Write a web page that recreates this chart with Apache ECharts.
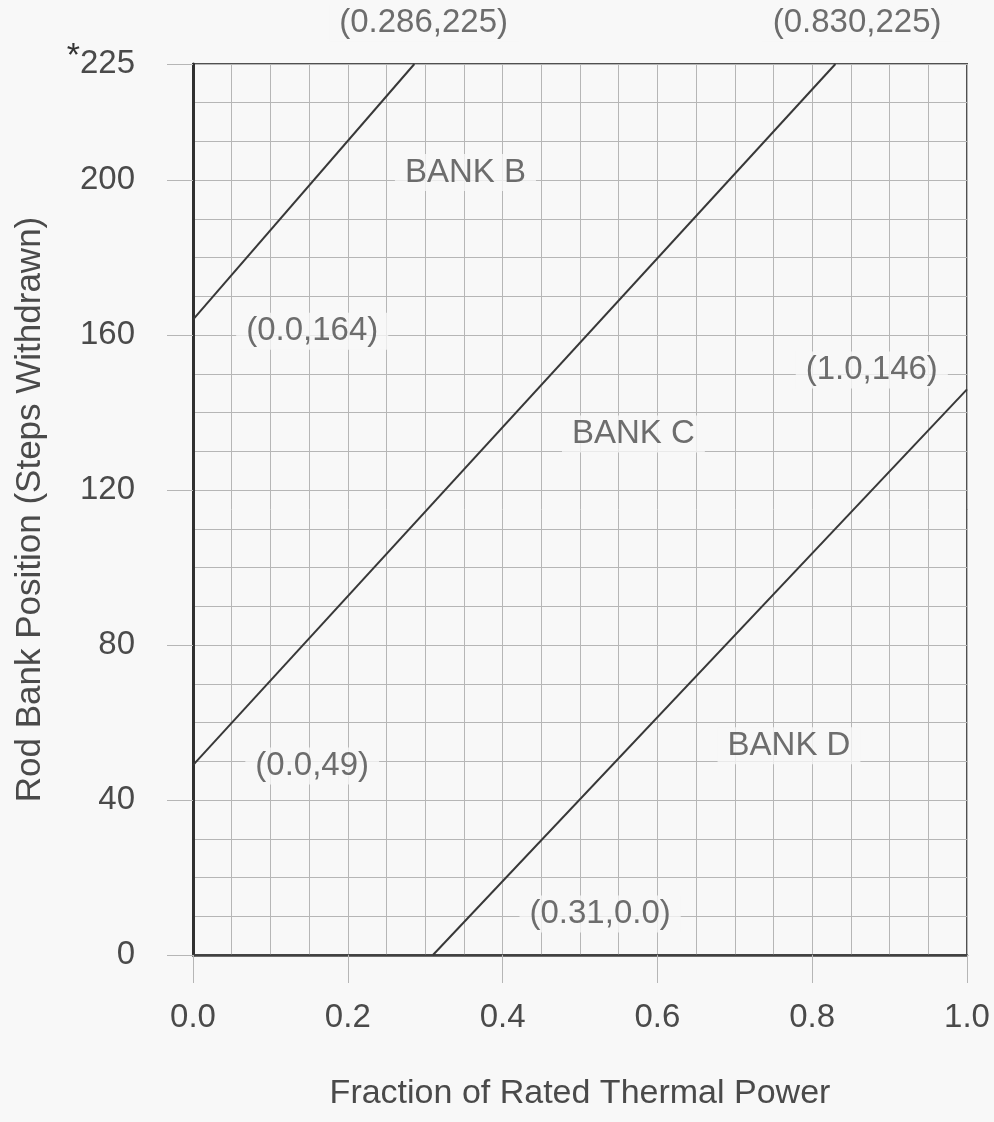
<!DOCTYPE html>
<html>
<head>
<meta charset="utf-8">
<script src="https://cdn.jsdelivr.net/npm/echarts@6/dist/echarts.min.js"></script>
<style>
  html, body { margin: 0; padding: 0; background: #f8f8f8; }
  #chart { width: 994px; height: 1122px; }
</style>
</head>
<body>
<div id="chart"></div>
<script>
// ---- data ----
// The top border of the figure is the "fully withdrawn" position (labelled *225),
// which on the drawn linear scale sits at 230 steps.
const yTop = 230;
const bankB = [[0.0, 164], [0.286, 230]];
const bankC = [[0.0, 49], [0.830, 230]];
const bankD = [[0.31, 0], [1.0, 146]];
const seriesNames = ['BANK B', 'BANK C', 'BANK D'];

const xTickValues = [0.0, 0.2, 0.4, 0.6, 0.8, 1.0];
const xTickLabels = ['0.0', '0.2', '0.4', '0.6', '0.8', '1.0'];
const yTickValues = [0, 40, 80, 120, 160, 200, 230];
const yTickLabels = ['0', '40', '80', '120', '160', '200', '{s|*}225'];

const annotationTexts = ['(0.286,225)', '(0.830,225)', 'BANK B', '(0.0,164)', '(1.0,146)', 'BANK C', '(0.0,49)', 'BANK D', '(0.31,0.0)'];
// anchor of each annotation, in axis units
const annotationX = [0.298, 0.858, 0.352, 0.154, 0.877, 0.569, 0.154, 0.770, 0.526];
const annotationY = [240.5, 240.5, 202, 161, 151, 134.5, 48.8, 54, 10.6];

// ---- chart ----
const textColor = '#4a4a4a';
const gridColor = '#b6b6b6';
const lineColor = '#383838';
const bgColor = '#f8f8f8';
const fontFamily = '"Liberation Sans", Arial, Helvetica, sans-serif';

const annotations = annotationTexts.map((t, i) => [annotationX[i], annotationY[i], t]);

function lookup(values, labels, v) {
  for (let i = 0; i < values.length; i++) {
    if (Math.abs(values[i] - v) < 1e-6) return labels[i];
  }
  return '';
}

const chart = echarts.init(document.getElementById('chart'), null, { renderer: 'canvas' });
chart.setOption({
  backgroundColor: bgColor,
  animation: false,
  textStyle: { fontFamily: fontFamily },
  grid: {
    left: 193, right: 27, top: 64, bottom: 167,
    show: true, borderColor: '#505050', borderWidth: 2, backgroundColor: 'transparent'
  },
  xAxis: [
    {
      type: 'value', min: 0, max: 1, interval: 0.05, position: 'bottom',
      axisLine: { show: true, lineStyle: { color: '#404040', width: 2.5 } },
      axisTick: { show: false }, axisLabel: { show: false },
      splitLine: { show: true, lineStyle: { color: gridColor, width: 1 } }
    },
    {
      type: 'value', min: 0, max: 1, interval: 0.2, position: 'bottom',
      name: 'Fraction of Rated Thermal Power', nameLocation: 'middle', nameGap: 122,
      nameTextStyle: { fontSize: 34, color: textColor, fontFamily: fontFamily },
      axisLine: { show: false },
      axisTick: { show: true, inside: false, length: 28, lineStyle: { color: gridColor, width: 1 } },
      axisLabel: {
        show: true, margin: 46, fontSize: 33, color: textColor, fontFamily: fontFamily,
        formatter: v => lookup(xTickValues, xTickLabels, v)
      },
      splitLine: { show: false }
    }
  ],
  yAxis: [
    {
      type: 'value', min: 0, max: yTop, interval: 10, position: 'left',
      axisLine: { show: true, lineStyle: { color: '#303030', width: 3 } },
      axisTick: { show: false }, axisLabel: { show: false },
      splitLine: { show: true, lineStyle: { color: gridColor, width: 1 } }
    },
    {
      type: 'value', min: 0, max: yTop, interval: 40, position: 'left',
      name: 'Rod Bank Position (Steps Withdrawn)', nameLocation: 'middle', nameGap: 145,
      nameTextStyle: { fontSize: 35, color: textColor, fontFamily: fontFamily },
      axisLine: { show: false },
      axisTick: { show: true, inside: false, length: 26, lineStyle: { color: gridColor, width: 1 } },
      axisLabel: {
        show: true, margin: 58, fontSize: 33, color: textColor, fontFamily: fontFamily,
        showMaxLabel: true,
        formatter: v => lookup(yTickValues, yTickLabels, v),
        rich: { s: { fontSize: 34, color: '#333', padding: [0, 0, 14, 0], fontFamily: fontFamily } }
      },
      splitLine: { show: false }
    }
  ],
  series: [
    {
      name: seriesNames[0], type: 'line', data: bankB, xAxisIndex: 0, yAxisIndex: 0,
      symbol: 'none', lineStyle: { color: lineColor, width: 2 }, z: 3
    },
    {
      name: seriesNames[1], type: 'line', data: bankC, xAxisIndex: 0, yAxisIndex: 0,
      symbol: 'none', lineStyle: { color: lineColor, width: 2 }, z: 3
    },
    {
      name: seriesNames[2], type: 'line', data: bankD, xAxisIndex: 0, yAxisIndex: 0,
      symbol: 'none', lineStyle: { color: lineColor, width: 2 }, z: 3
    },
    {
      name: 'annotations', type: 'scatter', data: annotations, xAxisIndex: 0, yAxisIndex: 0,
      clip: false, symbolSize: 0, silent: true, z: 4,
      encode: { x: 0, y: 1 },
      label: {
        show: true, position: 'inside', formatter: p => p.data[2],
        fontSize: 33, color: textColor, fontFamily: fontFamily,
        backgroundColor: bgColor, padding: [2, 10, 2, 10]
      }
    }
  ]
});
</script>
</body>
</html>
